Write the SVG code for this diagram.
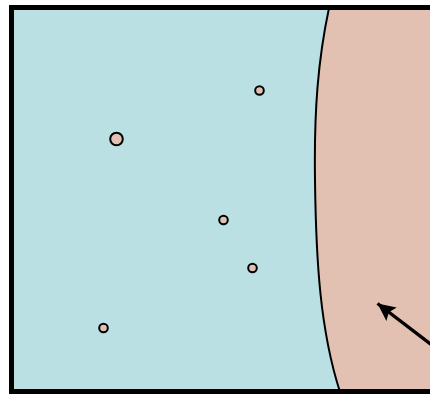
<svg xmlns="http://www.w3.org/2000/svg" width="430" height="394" viewBox="0 0 430 394">
<defs>
<style>
.dot{fill:#E3C1B2;stroke:#000;stroke-width:2}
.edge{fill:none;stroke:#000;stroke-width:3.4}
</style>
<marker id="ah" markerWidth="5.2" markerHeight="5" refX="5.2" refY="2.5" orient="auto" markerUnits="strokeWidth">
<path d="M0,0 L5.2,2.5 L0,5 L1,2.5 Z" fill="#000"/>
</marker>
</defs>
<g id="background">
<rect x="11.5" y="7.5" width="440" height="384" fill="#BAE0E3"/>
</g>
<g id="region">
<path d="M329,8 C318,60 314,110 315,180 C316,260 320,330 340,392 L440,392 L440,8 Z" fill="#E3C1B2" stroke="#000" stroke-width="2"/>
</g>
<g id="frame">
<rect x="11.5" y="7.5" width="440" height="384" fill="none" stroke="#000" stroke-width="5"/>
</g>
<g id="particles">
<circle id="p1" class="dot" cx="259.5" cy="90.5" r="4.3"/>
<circle id="p2" class="dot" cx="116.5" cy="139" r="6.3"/>
<circle id="p3" class="dot" cx="223.5" cy="220" r="4.3"/>
<circle id="p4" class="dot" cx="252.5" cy="268" r="4.3"/>
<circle id="p5" class="dot" cx="103.5" cy="328" r="4.3"/>
</g>
<g id="connectors">
<line class="edge" x1="445" y1="355" x2="377.5" y2="303.5" marker-end="url(#ah)"/>
</g>
</svg>
